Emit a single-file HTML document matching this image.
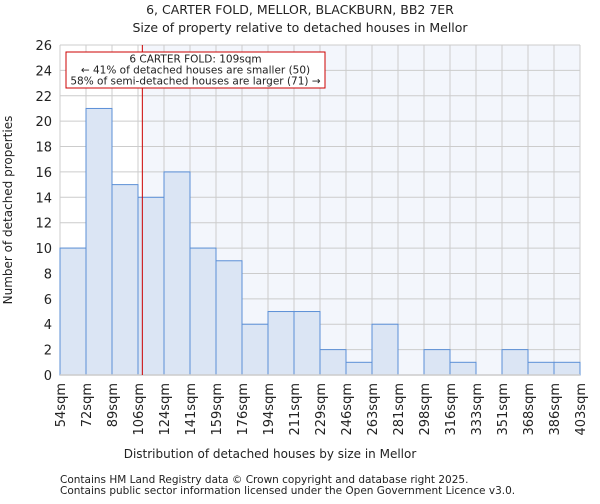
<!DOCTYPE html>
<html><head><meta charset="utf-8"><style>
body{margin:0;background:#fff;font-family:"DejaVu Sans","Liberation Sans",sans-serif}
svg text{font-family:"DejaVu Sans","Liberation Sans",sans-serif;fill:#222}
</style></head><body>
<svg id="c" width="600" height="500" xmlns="http://www.w3.org/2000/svg">
<text x="300" y="14" text-anchor="middle" font-size="12.5">6, CARTER FOLD, MELLOR, BLACKBURN, BB2 7ER</text>
<text x="300" y="32" text-anchor="middle" font-size="12.5">Size of property relative to detached houses in Mellor</text>
<g id="grid"></g><g id="bars"></g><g id="ax"></g>
<text x="270" y="458" text-anchor="middle" font-size="12">Distribution of detached houses by size in Mellor</text>
<text transform="translate(12,210) rotate(-90)" text-anchor="middle" font-size="12">Number of detached properties</text>
<text x="60" y="483" font-size="10.5">Contains HM Land Registry data © Crown copyright and database right 2025.</text>
<text x="60" y="494" font-size="10.5">Contains public sector information licensed under the Open Government Licence v3.0.</text>
</svg>
<script>
const categories=["54sqm","72sqm","89sqm","106sqm","124sqm","141sqm","159sqm","176sqm","194sqm","211sqm","229sqm","246sqm","263sqm","281sqm","298sqm","316sqm","333sqm","351sqm","368sqm","386sqm","403sqm"];
const counts=[10,21,15,14,16,10,9,4,5,5,2,1,4,0,2,1,0,2,1,1];
const yTicks=[0,2,4,6,8,10,12,14,16,18,20,22,24,26];
const binStart=[54,72,89,106,124,141,159,176,194,211,229,246,263,281,298,316,333,351,368,386,403];
const subjectSize=109;
const NS="http://www.w3.org/2000/svg";
const X0=60,X1=580,Y0=375,Y1=45,YMAX=26;
const bw=(X1-X0)/counts.length;
const xi=i=>X0+i*bw;
const y=v=>Y0-(v/YMAX)*(Y0-Y1);
function xv(v){for(let i=0;i<binStart.length-1;i++){if(v>=binStart[i]&&v<=binStart[i+1])return xi(i)+bw*(v-binStart[i])/(binStart[i+1]-binStart[i]);}return X1;}
function mk(p,t,a){const e=document.createElementNS(NS,t);for(const k in a)e.setAttribute(k,a[k]);p.appendChild(e);return e;}
const g=document.getElementById('grid'),b=document.getElementById('bars'),ax=document.getElementById('ax');
const sx=xv(subjectSize);
const bg=mk(g,'rect',{x:sx,y:Y1,width:X1-sx,height:Y0-Y1,fill:'#f3f6fc'});


yTicks.forEach(t=>{
 const l=mk(g,'line',{x1:X0,x2:X1,y1:y(t),y2:y(t),stroke:'#ccc','stroke-width':1});
 
 
 const tx=mk(ax,'text',{x:X0-8,y:y(t)+5,'text-anchor':'end','font-size':13});
 
 
 tx.textContent=t;
});
categories.forEach((c,i)=>{
 const l=mk(g,'line',{x1:xi(i),x2:xi(i),y1:Y1,y2:Y0,stroke:'#ccc','stroke-width':1});
 
 
 const tx=mk(ax,'text',{transform:`translate(${xi(i)+5},${Y0+8}) rotate(-90)`,'text-anchor':'end','font-size':13});
 
 
 tx.textContent=c;
});
counts.forEach((v,i)=>{
 if(v<=0)return;
 const r=mk(b,'rect',{x:xi(i),y:y(v),width:bw,height:Y0-y(v),fill:'#dbe5f4',stroke:'#5b8fd6','stroke-width':1});
 
 
});
const al=mk(ax,'line',{x1:X0,x2:X1,y1:Y0,y2:Y0,stroke:'#ccc','stroke-width':1.5});


const ml=mk(ax,'line',{x1:sx,x2:sx,y1:Y1,y2:Y0,stroke:'#cc0000','stroke-width':1});


const box=mk(ax,'rect',{x:66,y:52,width:259,height:36,fill:'#fff',stroke:'#cc0000','stroke-width':1});


["6 CARTER FOLD: 109sqm","← 41% of detached houses are smaller (50)","58% of semi-detached houses are larger (71) →"].forEach((s,i)=>{
 const t=mk(ax,'text',{x:195.5,y:62.5+i*11,'text-anchor':'middle','font-size':10.5});
 
 
 t.textContent=s;
});
</script>
</body></html>
